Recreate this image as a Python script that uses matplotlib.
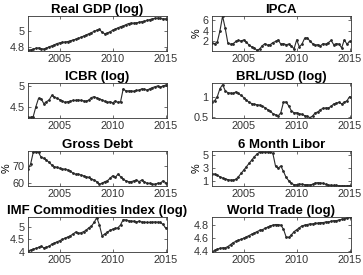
import numpy as np
import matplotlib
matplotlib.use('Agg')
import matplotlib.pyplot as plt

# quarterly, 2002Q1 .. 2015Q1
dates = 2002 + np.arange(53) * 0.25

gdp = [4.755, 4.76, 4.77, 4.78, 4.785, 4.775, 4.77, 4.78, 4.80, 4.81, 4.825, 4.84,
       4.85, 4.855, 4.86, 4.865, 4.875, 4.885, 4.895, 4.905, 4.92, 4.935, 4.95, 4.965,
       4.98, 4.995, 5.01, 5.02, 4.985, 4.965, 4.975, 4.99, 5.01, 5.025, 5.04, 5.055,
       5.065, 5.08, 5.095, 5.10, 5.10, 5.105, 5.11, 5.12, 5.125, 5.135, 5.145, 5.155,
       5.16, 5.165, 5.16, 5.155, 5.155]
ipca = [1.7, 1.6, 1.9, 4.0, 6.8, 4.5, 1.7, 1.5, 1.6, 2.0, 2.2, 2.1,
        2.3, 1.9, 1.3, 1.0, 0.8, 0.3, 0.6, 1.2, 1.6, 1.3, 1.4, 1.8,
        2.0, 2.3, 1.5, 1.6, 1.4, 1.5, 1.2, 0.6, 2.3, 1.0, 1.5, 2.6,
        2.7, 2.1, 1.6, 1.3, 1.4, 1.2, 1.6, 1.5, 1.8, 2.2, 1.4, 1.6,
        1.5, 0.8, 2.3, 1.5, 2.0]
icbr = [4.24, 4.24, 4.26, 4.50, 4.70, 4.69, 4.57, 4.62, 4.66, 4.77, 4.73, 4.70,
        4.67, 4.64, 4.60, 4.62, 4.63, 4.65, 4.65, 4.66, 4.65, 4.64, 4.63, 4.66,
        4.72, 4.74, 4.71, 4.69, 4.66, 4.63, 4.60, 4.62, 4.59, 4.64, 4.60, 4.62,
        4.93, 4.88, 4.88, 4.88, 4.87, 4.89, 4.90, 4.93, 4.92, 4.90, 4.93, 4.96,
        4.98, 5.00, 4.97, 5.00, 5.02]
brl = [0.88, 0.90, 1.00, 1.20, 1.30, 1.15, 1.10, 1.09, 1.08, 1.12, 1.08, 1.03,
       0.98, 0.92, 0.86, 0.83, 0.81, 0.80, 0.79, 0.76, 0.73, 0.68, 0.64, 0.58,
       0.55, 0.52, 0.60, 0.86, 0.87, 0.77, 0.65, 0.60, 0.60, 0.58, 0.56, 0.53,
       0.51, 0.48, 0.52, 0.60, 0.62, 0.68, 0.71, 0.72, 0.72, 0.76, 0.82, 0.84,
       0.86, 0.82, 0.86, 0.90, 1.00]
debt = [68, 71, 78, 78.5, 78, 75, 74.5, 73.5, 72, 70.5, 69.5, 69,
        68.5, 68, 68, 67.5, 67, 65.5, 65, 65, 64.5, 64, 63.5, 63,
        62, 61.5, 60.5, 59, 59.5, 60.5, 61, 62.5, 64, 63, 65, 63.5,
        62, 61, 60.5, 60.5, 61, 61.5, 60.5, 61.5, 60.5, 59.5, 59.5, 59,
        59, 59.5, 59.5, 61, 60]
libor = [2.1, 2.1, 1.9, 1.7, 1.5, 1.4, 1.25, 1.2, 1.2, 1.3, 1.7, 2.2,
         2.7, 3.2, 3.7, 4.2, 4.7, 5.1, 5.4, 5.45, 5.4, 5.4, 5.4, 5.2,
         3.3, 3.0, 3.3, 2.5, 1.6, 1.1, 0.7, 0.5, 0.5, 0.6, 0.55, 0.5,
         0.5, 0.48, 0.55, 0.75, 0.8, 0.75, 0.7, 0.55, 0.45, 0.42, 0.4, 0.38,
         0.35, 0.35, 0.33, 0.35, 0.36]
commod = [4.03, 4.06, 4.10, 4.13, 4.17, 4.22, 4.15, 4.18, 4.22, 4.30, 4.35, 4.40,
          4.45, 4.50, 4.55, 4.60, 4.65, 4.72, 4.80, 4.75, 4.77, 4.82, 4.88, 4.98,
          5.05, 5.20, 5.40, 5.10, 4.65, 4.72, 4.80, 4.87, 4.92, 4.95, 4.98, 5.10,
          5.32, 5.30, 5.27, 5.25, 5.25, 5.22, 5.25, 5.22, 5.21, 5.20, 5.20, 5.21,
          5.22, 5.21, 5.20, 5.12, 4.98]
trade = [4.39, 4.41, 4.43, 4.44, 4.45, 4.45, 4.47, 4.50, 4.53, 4.55, 4.57, 4.58,
         4.60, 4.62, 4.64, 4.66, 4.68, 4.70, 4.72, 4.73, 4.75, 4.77, 4.79, 4.80,
         4.81, 4.81, 4.80, 4.74, 4.62, 4.61, 4.65, 4.70, 4.73, 4.76, 4.79, 4.80,
         4.81, 4.82, 4.82, 4.83, 4.83, 4.84, 4.84, 4.85, 4.85, 4.86, 4.87, 4.87,
         4.88, 4.89, 4.90, 4.91, 4.92]

panels = [
    ("Real GDP (log)", gdp, "", (4.745, 5.19), [4.8, 5]),
    ("IPCA", ipca, "%", (0.2, 6.8), [2, 4, 6]),
    ("ICBR (log)", icbr, "", (4.225, 5.07), [4.5, 5]),
    ("BRL/USD (log)", brl, "", (0.47, 1.34), [0.5, 1]),
    ("Gross Debt", debt, "%", (57.9, 78.8), [60, 70]),
    ("6 Month Libor", libor, "%", (0.3, 5.55), [1, 3, 5]),
    ("IMF Commodities Index (log)", commod, "", (3.98, 5.42), [4, 4.5, 5]),
    ("World Trade (log)", trade, "", (4.385, 4.925), [4.4, 4.6, 4.8]),
]

plt.rcParams['font.family'] = ['Liberation Sans', 'DejaVu Sans']

fig = plt.figure(figsize=(3.63, 2.75), dpi=100)
lefts = [0.077, 0.584]
bottoms = [0.8145, 0.571, 0.3236, 0.0836]

for i, (title, vals, ylab, ylim, yt) in enumerate(panels):
    r, c = divmod(i, 2)
    ax = fig.add_axes([lefts[c], bottoms[r], 0.382, 0.127])
    ax.plot(dates, vals, color='#2a2a2a', lw=0.8, marker='.', ms=2)
    ax.set_xlim(2002, 2015.1)
    ax.set_ylim(*ylim)
    ax.set_xticks([2005, 2010, 2015])
    ax.set_yticks(yt)
    ax.set_yticklabels([('%g' % v) for v in yt])
    ax.tick_params(direction='in', length=2, width=0.5, labelsize=7.8, pad=2.5,
                   top=True, right=True, colors='#333333')
    for s in ax.spines.values():
        s.set_linewidth(0.6)
        s.set_color('#333333')
    ax.set_title(title, fontsize=9.5, fontweight='bold', pad=2.5)
    if ylab:
        ax.set_ylabel(ylab, fontsize=7.8, labelpad=0.5)

fig.savefig('out.png', dpi=100)
